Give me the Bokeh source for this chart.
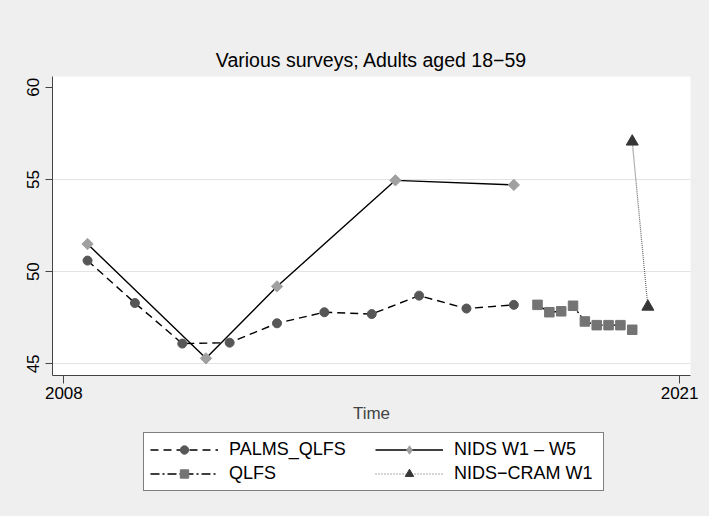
import math
from bokeh.plotting import figure
from bokeh.layouts import column
from bokeh.models import FixedTicker, Legend, LegendItem, Range1d
from bokeh.embed import file_html
from bokeh.resources import INLINE

# ---- data ----
palms_t = [2008.5, 2009.5, 2010.5, 2011.5, 2012.5, 2013.5, 2014.5, 2015.5, 2016.5, 2017.5]
palms_v = [50.6, 48.3, 46.1, 46.15, 47.2, 47.8, 47.7, 48.7, 48.0, 48.2]

qlfs_t = [2018.0, 2018.25, 2018.5, 2018.75, 2019.0, 2019.25, 2019.5, 2019.75, 2020.0]
qlfs_v = [48.2, 47.8, 47.85, 48.15, 47.3, 47.1, 47.1, 47.1, 46.85]

nids_t = [2008.5, 2011.0, 2012.5, 2015.0, 2017.5]
nids_v = [51.5, 45.3, 49.2, 54.95, 54.7]

cram_t = [2020.0, 2020.33]
cram_v = [57.05, 48.1]

x_ticks = [2008, 2021]
y_ticks = [45, 50, 55, 60]

series_names = ["PALMS_QLFS", "QLFS", "NIDS W1 \u2013 W5", "NIDS\u2212CRAM W1"]
title_text = "Various surveys; Adults aged 18\u221259"

FONT = "Liberation Sans"
BG = "#efefef"

# styles per series
S_PALMS = dict(line=dict(line_color="black", line_width=1.4, line_dash="8 5"),
               mark=dict(marker="circle", size=9, fill_color="#575757", line_color="#575757"))
S_QLFS = dict(line=dict(line_color="black", line_width=1.4, line_dash="9 3 2 3"),
              mark=dict(marker="square", size=9.5, fill_color="#747474", line_color="#747474"))
S_NIDS = dict(line=dict(line_color="black", line_width=1.4),
              mark=dict(marker="square", size=8, angle=math.pi / 4,
                        fill_color="#a0a0a0", line_color="#a0a0a0"))
S_CRAM = dict(line=dict(line_color="#666666", line_width=1.2, line_dash="1 1"),
              mark=dict(marker="triangle", size=12, fill_color="#363636", line_color="#363636"))

W = 709
H_MAIN = 430
H_LEG = 516 - H_MAIN

p = figure(width=W, height=H_MAIN, output_backend="svg", toolbar_location=None,
           x_range=Range1d(2007.76, 2021.23), y_range=Range1d(44.37, 60.58),
           min_border_left=52, min_border_right=19, min_border_top=76,
           min_border_bottom=H_MAIN - 375, title=title_text)

p.background_fill_color = "white"
p.border_fill_color = BG
p.outline_line_color = None

p.title.text_font = FONT
p.title.text_font_size = "19.5px"
p.title.text_font_style = "normal"
p.title.align = "center"
p.title.text_color = "black"
p.title.standoff = 11

for ax in (p.xaxis[0], p.yaxis[0]):
    ax.axis_line_color = "#444444"
    ax.major_tick_line_color = "#444444"
    ax.minor_tick_line_color = None
    ax.major_tick_in = 0
    ax.major_label_text_font = FONT
    ax.major_label_text_font_size = "17px"
    ax.major_label_text_color = "black"

p.xaxis.ticker = FixedTicker(ticks=x_ticks)
p.xaxis.major_tick_out = 8
p.xaxis.major_label_standoff = 3
p.xaxis.axis_label = "Time"
p.xaxis.axis_label_text_font = FONT
p.xaxis.axis_label_text_font_size = "17px"
p.xaxis.axis_label_text_font_style = "normal"
p.xaxis.axis_label_standoff = 2

p.yaxis.ticker = FixedTicker(ticks=y_ticks)
p.yaxis.major_tick_out = 7
p.yaxis.major_label_standoff = 6
p.yaxis.major_label_orientation = "vertical"

p.xgrid.grid_line_color = None
p.ygrid.ticker = FixedTicker(ticks=[45, 50, 55])
p.ygrid.grid_line_color = "#e3e3e3"
p.ygrid.grid_line_width = 1

series = [(palms_t, palms_v, S_PALMS), (qlfs_t, qlfs_v, S_QLFS),
          (nids_t, nids_v, S_NIDS), (cram_t, cram_v, S_CRAM)]
for t, v, s in series:
    p.line(t, v, **s["line"])
    p.scatter(t, v, **s["mark"])

# ---- legend strip: separate figure; its renderers lie outside its ranges,
# so only their legend glyphs show ----
lf = figure(width=W, height=H_LEG, output_backend="svg", toolbar_location=None,
            x_range=Range1d(0, 1), y_range=Range1d(0, 1),
            x_axis_location=None, y_axis_location=None,
            min_border=0, min_border_left=0, min_border_right=0,
            min_border_top=0, min_border_bottom=0)
lf.grid.visible = False
lf.outline_line_color = None
lf.background_fill_color = BG
lf.border_fill_color = BG

legend_marks = [S_PALMS["mark"], S_QLFS["mark"],
                dict(marker="diamond", size=13, fill_color="#a0a0a0", line_color="#a0a0a0"),
                S_CRAM["mark"]]
legend_lines = [S_PALMS["line"], S_QLFS["line"], S_NIDS["line"],
                dict(line_color="#555555", line_width=1.0, line_dash="1 2")]

items = []
for name, (t, v, s), lm, ll in zip(series_names, series, legend_marks, legend_lines):
    rl = lf.line(t, v, **ll)
    rm = lf.scatter(t, v, **lm)
    items.append(LegendItem(label=name, renderers=[rl, rm]))

# location is relative to this strip's frame, which the column aligns with the main frame (x=52)
legend = Legend(items=items, ncols=2, location=(91, H_LEG - 61))
legend.label_text_font = FONT
legend.label_text_font_size = "18px"
legend.label_text_color = "black"
legend.glyph_width = 68
legend.glyph_height = 21
legend.label_height = 21
legend.label_width = 143
legend.label_standoff = 11
legend.spacing = 3
legend.padding = 6
legend.margin = 0
legend.border_line_color = "black"
legend.border_line_width = 1
legend.background_fill_color = "white"
legend.background_fill_alpha = 1
lf.add_layout(legend, "center")

layout = column(p, lf, spacing=0)
layout.styles = {"background-color": BG}
html = file_html(layout, INLINE)
html = html.replace("<body>", '<body style="background-color:#efefef;">', 1)
open("out.html", "w").write(html)
